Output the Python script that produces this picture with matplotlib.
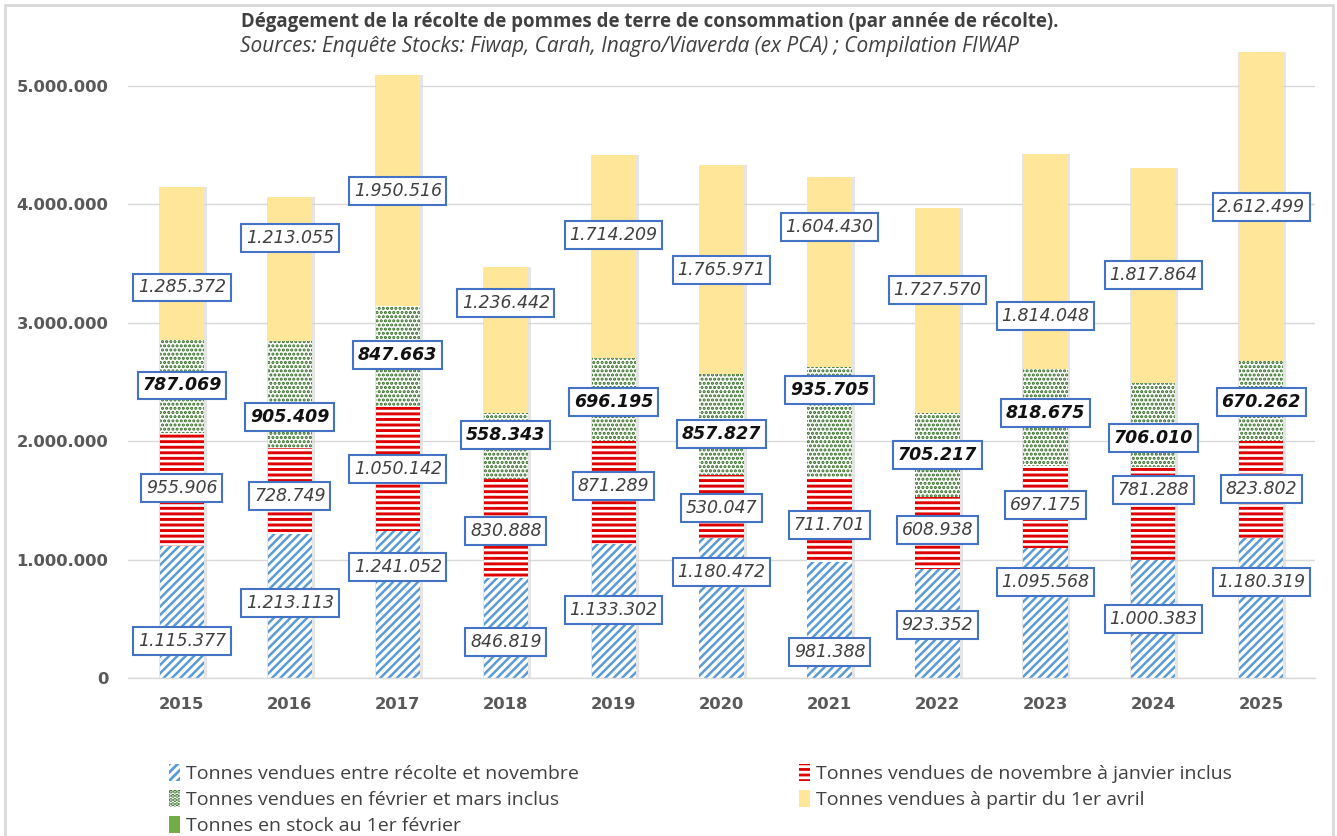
import matplotlib
matplotlib.use("Agg")
import matplotlib.pyplot as plt
import numpy as np
from matplotlib.patches import Rectangle, Patch

years = ["2015", "2016", "2017", "2018", "2019", "2020", "2021", "2022", "2023", "2024", "2025"]
s1_recolte_nov = [1115377, 1213113, 1241052, 846819, 1133302, 1180472, 981388, 923352, 1095568, 1000383, 1180319]
s2_nov_jan = [955906, 728749, 1050142, 830888, 871289, 530047, 711701, 608938, 697175, 781288, 823802]
s3_fev_mars = [787069, 905409, 847663, 558343, 696195, 857827, 935705, 705217, 818675, 706010, 670262]
s4_avril = [1285372, 1213055, 1950516, 1236442, 1714209, 1765971, 1604430, 1727570, 1814048, 1817864, 2612499]

series_names = [
    "Tonnes vendues entre récolte et novembre",
    "Tonnes vendues de novembre à janvier inclus",
    "Tonnes vendues en février et mars inclus",
    "Tonnes vendues à partir du 1er avril",
    "Tonnes en stock au 1er février",
]

# label anchor heights (data units) as placed in the original chart
label_y = [
    [312000, 633000, 937000, 304000, 574000, 895000, 220000, 448000, 811000, 498000, 811000],
    [1605000, 1537000, 1765000, 1242000, 1622000, 1436000, 1293000, 1250000, 1461000, 1588000, 1596000],
    [2470000, 2204000, 2728000, 2052000, 2331000, 2061000, 2433000, 1883000, 2238000, 2027000, 2331000],
    [3300000, 3716000, 4113000, 3168000, 3742000, 3446000, 3809000, 3277000, 3057000, 3404000, 3978000],
]

title = "Dégagement de la récolte de pommes de terre de consommation (par année de récolte)."
subtitle = "Sources: Enquête Stocks: Fiwap, Carah, Inagro/Viaverda (ex PCA) ; Compilation FIWAP"

def fmt(v):
    return f"{v:,}".replace(",", ".")

TXT = ["Open Sans", "DejaVu Sans"]
fig = plt.figure(figsize=(13.37, 8.36), dpi=100)
ax = fig.add_axes([0.0957, 0.189, 0.888, 0.772])

x = np.arange(len(years))
w = 0.41
s1 = np.array(s1_recolte_nov); s2 = np.array(s2_nov_jan); s3 = np.array(s3_fev_mars); s4 = np.array(s4_avril)
tot = s1 + s2 + s3 + s4

H1, H2, H3 = "////", "---", "...."
C1, C2, C3 = "#5B9BD5", "#E00000", "#2E6B1E"

# soft shadow
ax.bar(x + 0.01, tot, w + 0.035, color="#d4d4d4", alpha=0.6, zorder=1, linewidth=0)

def hbar(bottom, vals, hatch, color, lw):
    bars = ax.bar(x, vals, w, bottom=bottom, facecolor="white", edgecolor=color,
                  hatch=hatch, linewidth=0, zorder=2)
    for b in bars:
        if hasattr(b, "set_hatch_linewidth"):
            b.set_hatch_linewidth(lw)
    return bars

plt.rcParams["hatch.linewidth"] = 2.0
hbar(0, s1, H1, C1, 1.8)
hbar(s1, s2, H2, C2, 2.1)
hbar(s1 + s2, s3, H3, C3, 1.5)
ax.bar(x, s4, w, bottom=s1 + s2 + s3, color="#FFE699", linewidth=0, zorder=2)

for si, vals in enumerate([s1, s2, s3, s4]):
    bold = (si == 2)
    for i, v in enumerate(vals):
        ax.text(x[i], label_y[si][i], fmt(int(v)), ha="center", va="center",
                fontsize=12.5, fontstyle="italic", fontweight="bold" if bold else "normal",
                family="DejaVu Sans", color="#111111" if bold else "#404040", zorder=5,
                bbox=dict(boxstyle="square,pad=0.27", facecolor="white", edgecolor="#4472C4", linewidth=1.5))

ax.set_xlim(-0.5, len(years) - 0.5)
ax.set_ylim(0, 5450000)
ax.set_yticks(np.arange(0, 5000001, 1000000))
ax.set_yticklabels([fmt(int(t)) for t in np.arange(0, 5000001, 1000000)])
ax.set_xticks(x)
ax.set_xticklabels(years)
for lab in ax.get_yticklabels() + ax.get_xticklabels():
    lab.set_fontweight("bold"); lab.set_color("#595959"); lab.set_fontsize(11.8)
ax.tick_params(axis="both", length=0)
ax.tick_params(axis="y", pad=14)
ax.tick_params(axis="x", pad=14)
ax.grid(axis="y", color="#D9D9D9", linewidth=1.0, zorder=0)
ax.set_axisbelow(True)
for s in ["top", "right", "left"]:
    ax.spines[s].set_visible(False)
ax.spines["bottom"].set_color("#D9D9D9")
ax.spines["bottom"].set_linewidth(1.0)

fig.text(0.486, 0.974, title, ha="center", va="center", fontsize=13.4, fontweight="bold",
         family=TXT, color="#404040")
fig.text(0.4705, 0.944, subtitle, ha="center", va="center", fontsize=15, fontstyle="italic",
         family=TXT, color="#404040")

handles = [
    Patch(facecolor="white", edgecolor=C1, hatch=H1, linewidth=0),
    Patch(facecolor="white", edgecolor=C3, hatch=H3, linewidth=0),
    Patch(facecolor="#70AD47", linewidth=0),
    Patch(facecolor="white", edgecolor=C2, hatch=H2, linewidth=0),
    Patch(facecolor="#FFE699", linewidth=0),
]
labels = [series_names[0], series_names[2], series_names[4], series_names[1], series_names[3]]
leg = fig.legend(handles, labels, ncol=2, loc="upper left", bbox_to_anchor=(0.113, 0.107),
                 frameon=False, handlelength=0.6, handleheight=1.0, handletextpad=0.3,
                 columnspacing=11.3, labelspacing=0.33, prop={"family": TXT, "size": 14})
for t in leg.get_texts():
    t.set_color("#404040")

fig.patches.append(Rectangle((0.0037, -0.01), 0.9935, 1.004, transform=fig.transFigure,
                             fill=False, edgecolor="#D9D9D9", linewidth=2))

fig.savefig("out.png", dpi=100)
